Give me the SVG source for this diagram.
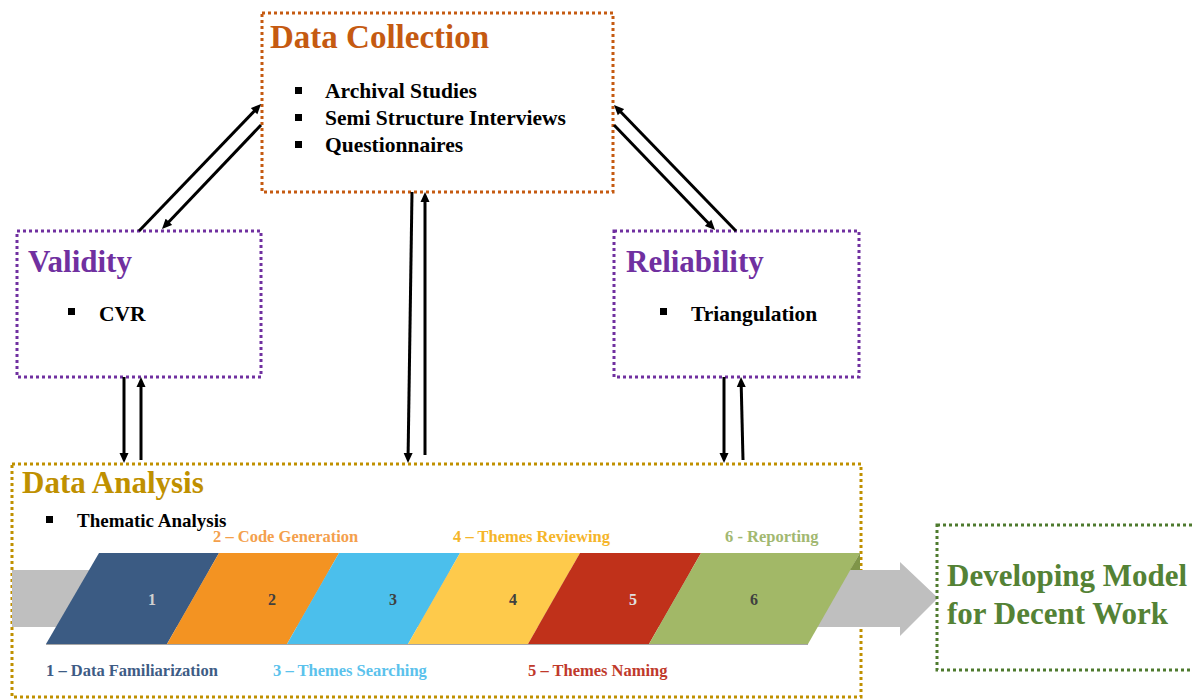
<svg xmlns="http://www.w3.org/2000/svg" width="1192" height="700" viewBox="0 0 1192 700">
<defs>
<style>
text{font-family:"Liberation Serif","Times New Roman",serif;font-weight:bold}
.box{fill:#fff;stroke-width:3;stroke-dasharray:3 3}
.title{font-size:31px}
.item{font-size:21.5px;fill:#000}
.stage{font-size:16.5px}
.num{font-size:16px;text-anchor:middle}
.conn line{stroke:#000;stroke-width:3;marker-end:url(#ah)}
.bul{fill:#000}
</style>
<marker id="ah" markerUnits="userSpaceOnUse" markerWidth="10" markerHeight="10" viewBox="0 0 10 10" refX="2" refY="5" orient="auto">
<path d="M0,0.5 L10,5 L0,9.5 z" fill="#000"/>
</marker>
</defs>
<rect width="1192" height="700" fill="#fff"/>

<g id="data-collection">
<rect class="box" x="262" y="13" width="351" height="179" stroke="#C55A11"/>
<text x="270" y="48" style="font-size:33px" fill="#C55A11">Data Collection</text>
<rect class="bul" x="295" y="87" width="7" height="7"/>
<rect class="bul" x="295" y="114" width="7" height="7"/>
<rect class="bul" x="295" y="141" width="7" height="7"/>
<text class="item" x="325" y="98">Archival Studies</text>
<text class="item" x="325" y="125">Semi Structure Interviews</text>
<text class="item" x="325" y="152">Questionnaires</text>
</g>

<g id="validity">
<rect class="box" x="17" y="231" width="244" height="146" stroke="#7030A0"/>
<text class="title" x="28" y="272" fill="#7030A0">Validity</text>
<rect class="bul" x="68" y="308" width="7" height="7"/>
<text class="item" x="99" y="321">CVR</text>
</g>

<g id="reliability">
<rect class="box" x="614" y="231" width="245" height="146" stroke="#7030A0"/>
<text class="title" x="626" y="272" fill="#7030A0">Reliability</text>
<rect class="bul" x="660" y="308" width="7" height="7"/>
<text class="item" x="691" y="321">Triangulation</text>
</g>

<g id="data-analysis">
<rect class="box" x="12" y="464" width="849" height="233" stroke="#BF9000"/>
<text class="title" x="22" y="493" fill="#BF9000">Data Analysis</text>
<rect class="bul" x="46" y="516" width="7" height="7"/>
<text x="77" y="527" style="font-size:19px" fill="#000">Thematic Analysis</text>
<polygon points="12,570 900,570 900,562 938,598 900,636 900,627 12,627" fill="#BFBFBF"/>
<polygon points="99,553 219,553 167,644 46,644" fill="#3B5B83"/>
<polygon points="219,553 339,553 287,644 167,644" fill="#F39322"/>
<polygon points="339,553 460,553 408,644 287,644" fill="#4BBFEC"/>
<polygon points="460,553 580,553 528,644 408,644" fill="#FECA4B"/>
<polygon points="580,553 701,553 649,644 528,644" fill="#C0311A"/>
<polygon points="701,553 860,553 808,644 649,644" fill="#A2B867"/>
<polygon points="850,570 860,553 860,570" fill="#7F9548"/>
<line x1="46" y1="644.5" x2="808" y2="644.5" stroke="#A6A6A6" stroke-width="1"/>
<text class="num" x="152" y="605" fill="#D0D0D0">1</text>
<text class="num" x="272" y="605" fill="#404040">2</text>
<text class="num" x="393" y="605" fill="#404040">3</text>
<text class="num" x="513" y="605" fill="#404040">4</text>
<text class="num" x="633" y="605" fill="#E0E0E0">5</text>
<text class="num" x="754" y="605" fill="#404040">6</text>
<text class="stage" x="213" y="542" fill="#F4A04C">2 – Code Generation</text>
<text class="stage" x="453" y="542" fill="#F5B52A">4 – Themes Reviewing</text>
<text class="stage" x="725" y="542" fill="#A2B871">6 - Reporting</text>
<text class="stage" x="46" y="676" fill="#3E5C85">1 – Data Familiarization</text>
<text class="stage" x="273" y="676" fill="#5BC2EC">3 – Themes Searching</text>
<text class="stage" x="528" y="676" fill="#C0392B">5 – Themes Naming</text>
</g>

<g id="decent-work">
<rect class="box" x="937" y="525" width="270" height="145" stroke="#4E7A2E"/>
<text x="947" y="586" style="font-size:31px" fill="#548235">Developing Model</text>
<text x="947" y="624" style="font-size:31px" fill="#548235">for Decent Work</text>
</g>

<g id="connectors" class="conn">
<line x1="139" y1="231" x2="255.5" y2="109.8"/>
<line x1="261" y1="125" x2="167.5" y2="223.2"/>
<line x1="736" y1="231" x2="619.6" y2="110.7"/>
<line x1="614" y1="125" x2="709.5" y2="224.2"/>
<line x1="124" y1="377" x2="124" y2="455"/>
<line x1="141" y1="460" x2="141" y2="385"/>
<line x1="412" y1="192" x2="408.1" y2="455"/>
<line x1="425" y1="455" x2="425" y2="200"/>
<line x1="724" y1="377" x2="724" y2="455"/>
<line x1="743" y1="460" x2="741.2" y2="385"/>
</g>
</svg>
